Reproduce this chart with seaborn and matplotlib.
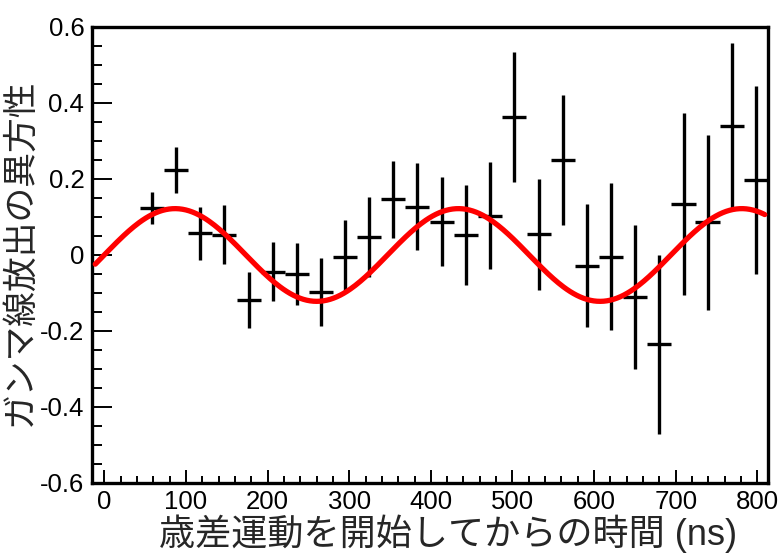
import numpy as np
import pandas as pd
import matplotlib
matplotlib.use("Agg")
import matplotlib.pyplot as plt
import seaborn as sns
from matplotlib.ticker import MultipleLocator

# data
t_ns = [58.4, 88.1, 117.5, 146.9, 177.1, 206.5, 235.9, 265.2, 295.3, 324.7,
        354.1, 383.5, 413.3, 443.1, 472.5, 502.2, 532.1, 561.4, 590.8, 620.5,
        650.3, 679.7, 709.5, 738.9, 768.6, 798.0]
asym = [0.124, 0.224, 0.057, 0.053, -0.118, -0.044, -0.050, -0.097, -0.004, 0.047,
        0.147, 0.127, 0.088, 0.052, 0.103, 0.362, 0.054, 0.250, -0.028, -0.004,
        -0.111, -0.235, 0.135, 0.086, 0.339, 0.197]
asym_err = [0.043, 0.061, 0.070, 0.078, 0.074, 0.077, 0.082, 0.090, 0.095, 0.105,
            0.101, 0.115, 0.118, 0.131, 0.141, 0.171, 0.147, 0.171, 0.162, 0.193,
            0.190, 0.236, 0.239, 0.231, 0.220, 0.248]
bin_half = 14.8

# fitted sine
fit_amp = 0.122
fit_period = 347.0
fit_t0 = 0.0
fit_range = (-11, 809)

sns.set_style("ticks")
plt.rcParams['font.family'] = ['Liberation Sans', 'DejaVu Sans']
plt.rcParams['axes.unicode_minus'] = False
jp = ['Liberation Sans', 'Noto Sans CJK JP', 'DejaVu Sans']

fig = plt.figure(figsize=(7.83, 5.53), dpi=100)
ax = fig.add_axes([0.1175, 0.1266, 0.8634, 0.8246])

ax.errorbar(t_ns, asym, yerr=asym_err, xerr=bin_half, fmt='none',
            ecolor='black', elinewidth=2.4, capsize=0, zorder=2)

tt = np.linspace(fit_range[0], fit_range[1], 400)
fit_df = pd.DataFrame({'t': tt, 'a': fit_amp * np.sin(2 * np.pi * (tt - fit_t0) / fit_period)})
sns.lineplot(data=fit_df, x='t', y='a', color='#ff0000', linewidth=3.8, ax=ax, zorder=3)

ax.set_xlim(-15, 813)
ax.set_ylim(-0.6, 0.6)
ax.xaxis.set_major_locator(MultipleLocator(100))
ax.xaxis.set_minor_locator(MultipleLocator(20))
ax.yaxis.set_minor_locator(MultipleLocator(0.05))
ax.set_yticks([0.6, 0.4, 0.2, 0, -0.2, -0.4, -0.6])
ax.set_yticklabels(['0.6', '0.4', '0.2', '0', '-0.2', '-0.4', '-0.6'])

ax.tick_params(axis='both', which='both', direction='in', top=False, right=False,
               colors='black', labelsize=18.5, width=1.4)
ax.tick_params(axis='y', which='major', length=14.4, pad=5.5)
ax.tick_params(axis='y', which='minor', length=7.2)
ax.tick_params(axis='x', which='major', length=9.4, pad=5)
ax.tick_params(axis='x', which='minor', length=4.7)

for s in ax.spines.values():
    s.set_linewidth(2.4)
    s.set_color('black')

ax.set_xlabel('歳差運動を開始してからの時間 (ns)', fontsize=26, family=jp)
ax.set_ylabel('ガンマ線放出の異方性', fontsize=25, family=jp)
ax.xaxis.set_label_coords(0.526, -0.068)
ax.yaxis.set_label_coords(-0.082, 0.507)

fig.savefig('out.png', dpi=100)
